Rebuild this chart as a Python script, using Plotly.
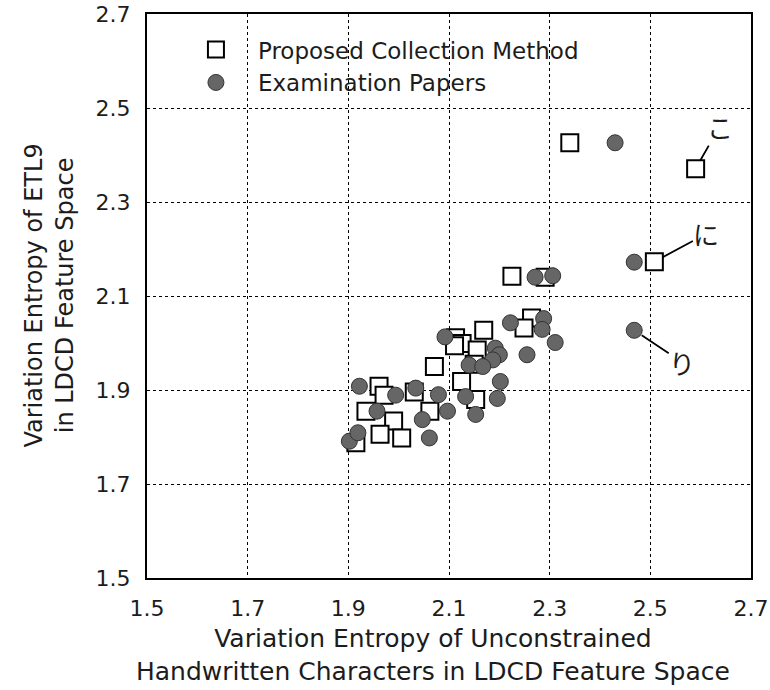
import plotly.graph_objects as go

# ---- data ----
tick_vals = [1.5, 1.7, 1.9, 2.1, 2.3, 2.5, 2.7]
tick_text = ["1.5", "1.7", "1.9", "2.1", "2.3", "2.5", "2.7"]

proposed_x = [2.340, 2.590, 2.508, 2.225, 2.291, 2.264, 2.249, 2.169, 2.113, 2.126,
              2.111, 2.156, 2.150, 2.071, 2.125, 2.153, 2.062, 1.961, 1.971, 2.031,
              1.935, 1.990, 1.963, 2.006, 1.915]
proposed_y = [2.426, 2.371, 2.173, 2.142, 2.140, 2.053, 2.032, 2.027, 2.011, 1.999,
              1.994, 1.985, 1.955, 1.950, 1.918, 1.880, 1.855, 1.908, 1.889, 1.896,
              1.855, 1.834, 1.806, 1.798, 1.788]

exam_x = [2.430, 2.468, 2.468, 2.271, 2.306, 2.222, 2.288, 2.285, 2.311, 2.255,
          2.092, 2.192, 2.200, 2.187, 2.140, 2.167, 2.202, 2.133, 2.196, 2.153,
          2.079, 2.097, 1.922, 1.994, 2.034, 1.957, 2.047, 2.061, 1.902, 1.919]
exam_y = [2.426, 2.172, 2.027, 2.140, 2.143, 2.043, 2.052, 2.029, 2.001, 1.975,
          2.013, 1.989, 1.975, 1.964, 1.953, 1.950, 1.918, 1.886, 1.882, 1.848,
          1.890, 1.855, 1.908, 1.889, 1.904, 1.855, 1.837, 1.798, 1.791, 1.809]

# labelled characters: (x, y, label, offset x px, offset y px)
label_x = [2.590, 2.508, 2.468]
label_y = [2.371, 2.173, 2.027]
label_text = ["こ", "に", "り"]
label_ax = [24, 52, 48]
label_ay = [-42, -28, 32]

legend_names = ["Proposed Collection Method", "Examination Papers"]
x_title = "Variation Entropy of Unconstrained<br>Handwritten Characters in LDCD Feature Space"
y_title = "Variation Entropy of ETL9<br>in LDCD Feature Space"

FONT = "DejaVu Sans"
TXT = "#1c1c1c"

fig = go.Figure()
fig.add_trace(go.Scatter(
    x=proposed_x, y=proposed_y, mode="markers", name=legend_names[0],
    legendgroup="a",
    marker=dict(symbol="square", size=17, color="white",
                line=dict(color="black", width=2)),
))
fig.add_trace(go.Scatter(
    x=exam_x, y=exam_y, mode="markers", name=legend_names[1],
    legendgroup="b",
    marker=dict(symbol="circle", size=16, color="#666666",
                line=dict(color="#333333", width=1)),
))

annotations = []
for lx, ly, lt, ax, ay in zip(label_x, label_y, label_text, label_ax, label_ay):
    annotations.append(dict(
        x=lx, y=ly, xref="x", yref="y", text=lt, showarrow=True,
        arrowhead=0, arrowwidth=1.8, arrowcolor="black", ax=ax, ay=ay,
        standoff=9, borderpad=0,
        font=dict(family="Noto Sans CJK JP", size=26, color=TXT),
    ))
annotations.append(dict(
    text=x_title, xref="paper", yref="paper", x=0.474, y=-0.137,
    xanchor="center", yanchor="middle", showarrow=False,
    font=dict(family=FONT, size=25, color=TXT),
))
annotations.append(dict(
    text=y_title, xref="paper", yref="paper", x=-0.163, y=0.5,
    xanchor="center", yanchor="middle", showarrow=False, textangle=-90,
    font=dict(family=FONT, size=24, color=TXT),
))

axis_common = dict(
    range=[1.5, 2.7], tickvals=tick_vals, ticktext=tick_text,
    showgrid=True, gridcolor="black", gridwidth=1.3, griddash="dot",
    showline=True, linecolor="black", linewidth=2, mirror=True,
    zeroline=False, ticks="", ticklabelstandoff=10,
    ticklabeloverflow="allow", automargin=False,
    tickfont=dict(family=FONT, size=22, color=TXT),
)

fig.update_layout(
    width=770, height=690,
    margin=dict(l=147, r=19, t=14, b=112, autoexpand=False),
    paper_bgcolor="white", plot_bgcolor="white",
    xaxis=axis_common, yaxis=axis_common,
    showlegend=True,
    legend=dict(
        x=0.0446, y=0.975, xanchor="left", yanchor="top",
        bgcolor="rgba(0,0,0,0)", borderwidth=0,
        font=dict(family=FONT, size=23, color=TXT),
        itemsizing="trace", tracegroupgap=0, itemwidth=74,
    ),
    annotations=annotations,
)

fig.write_html("out.html")
